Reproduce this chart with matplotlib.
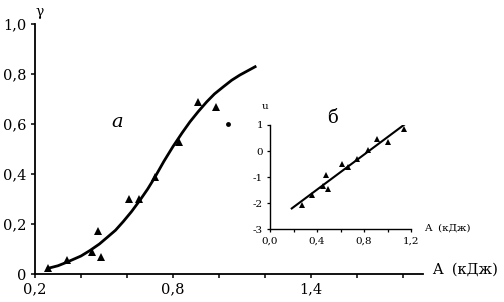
import numpy as np
import matplotlib
matplotlib.use("Agg")
import matplotlib.pyplot as plt

plt.rcParams['font.family'] = ['DejaVu Serif']

# main panel (a): gamma vs A
pts_A = [0.257, 0.339, 0.447, 0.475, 0.488, 0.61, 0.652, 0.72, 0.826, 0.907, 0.987]
pts_g = [0.024, 0.056, 0.088, 0.172, 0.068, 0.30, 0.30, 0.39, 0.53, 0.69, 0.67]
dot_A = [1.04]
dot_g = [0.60]
curve_A = [0.258, 0.30, 0.338, 0.40, 0.439, 0.48, 0.512, 0.55, 0.584, 0.62, 0.657, 0.69,
           0.72, 0.76, 0.80, 0.84, 0.874, 0.91, 0.947, 0.98, 1.019, 1.055, 1.091, 1.125, 1.157]
curve_g = [0.023, 0.033, 0.047, 0.072, 0.094, 0.12, 0.145, 0.175, 0.21, 0.25, 0.296, 0.34,
           0.385, 0.45, 0.51, 0.565, 0.609, 0.65, 0.689, 0.72, 0.749, 0.775, 0.796, 0.813, 0.829]
main_xticks = [0.2, 0.4, 0.6, 0.8, 1.0, 1.2, 1.4, 1.6, 1.8]
main_xlabels = ['0,2', '', '', '0,8', '', '', '1,4', '', '']
main_yticks = [0, 0.2, 0.4, 0.6, 0.8, 1.0]
main_ylabels = ['0', '0,2', '0,4', '0,6', '0,8', '1,0']

# inset (б): u vs A
ins_A = [0.27, 0.355, 0.454, 0.48, 0.497, 0.61, 0.66, 0.74, 0.837, 0.913, 1.0, 1.143]
ins_u = [-2.08, -1.67, -1.35, -0.92, -1.47, -0.51, -0.60, -0.32, 0.04, 0.45, 0.36, 0.85]
fit_A = [0.185, 1.234]
fit_u = [-2.20, 1.32]
ins_xticks = [0, 0.2, 0.4, 0.6, 0.8, 1.0, 1.2]
ins_xlabels = ['0,0', '', '0,4', '', '0,8', '', '1,2']
ins_yticks = [-3, -2, -1, 0, 1]
ins_ylabels = ['-3', '-2', '-1', '0', '1']

fig = plt.figure(figsize=(5.04, 3.02), dpi=100)

ax = fig.add_axes([35/504, 28/302, 388/504, 250/302])
ax.plot(curve_A, curve_g, color='black', lw=2.0, solid_joinstyle='round')
ax.plot(pts_A, pts_g, '^', color='black', ms=6, mew=0)
ax.plot(dot_A, dot_g, 'o', color='black', ms=3.5, mew=0)
ax.set_xlim(0.2, 1.887)
ax.set_ylim(0, 1.0)
ax.set_xticks(main_xticks)
ax.set_xticklabels(main_xlabels, fontsize=10.5)
ax.set_yticks(main_yticks)
ax.set_yticklabels(main_ylabels, fontsize=10.5)
ax.tick_params(direction='out', length=3, width=1.1, pad=3)
for s in ['top', 'right']:
    ax.spines[s].set_visible(False)
for s in ['left', 'bottom']:
    ax.spines[s].set_linewidth(1.3)
ax.patch.set_visible(False)

fig.text(40/504, 1 - 12/302, 'γ', fontsize=10, ha='center', va='center')
fig.text(117/504, 1 - 122/302, 'а', fontsize=14, style='italic', ha='center', va='center')
fig.text(432/504, 1 - 270/302, 'A  (кДж)', fontsize=10.5, ha='left', va='center')

ax2 = fig.add_axes([270/504, (302 - 229.3)/302, 141/504, 104.3/302])
ax2.plot(fit_A, fit_u, color='black', lw=1.5)
ax2.plot(ins_A, ins_u, '^', color='black', ms=4.5, mew=0)
ax2.set_xlim(0, 1.2)
ax2.set_ylim(-3, 1)
ax2.set_xticks(ins_xticks)
ax2.set_xticklabels(ins_xlabels, fontsize=7.5)
ax2.set_yticks(ins_yticks)
ax2.set_yticklabels(ins_ylabels, fontsize=7.5)
ax2.tick_params(direction='out', length=2, width=0.9, pad=3)
for s in ['top', 'right']:
    ax2.spines[s].set_visible(False)
for s in ['left', 'bottom']:
    ax2.spines[s].set_linewidth(1.0)
ax2.patch.set_visible(False)

fig.text(265/504, 1 - 107/302, 'u', fontsize=7.5, ha='center', va='center')
fig.text(332/504, 1 - 118/302, 'б', fontsize=13, ha='center', va='center')
fig.text(424/504, 1 - 228/302, 'A  (кДж)', fontsize=7.5, ha='left', va='center')

fig.savefig('out.png', dpi=100)
